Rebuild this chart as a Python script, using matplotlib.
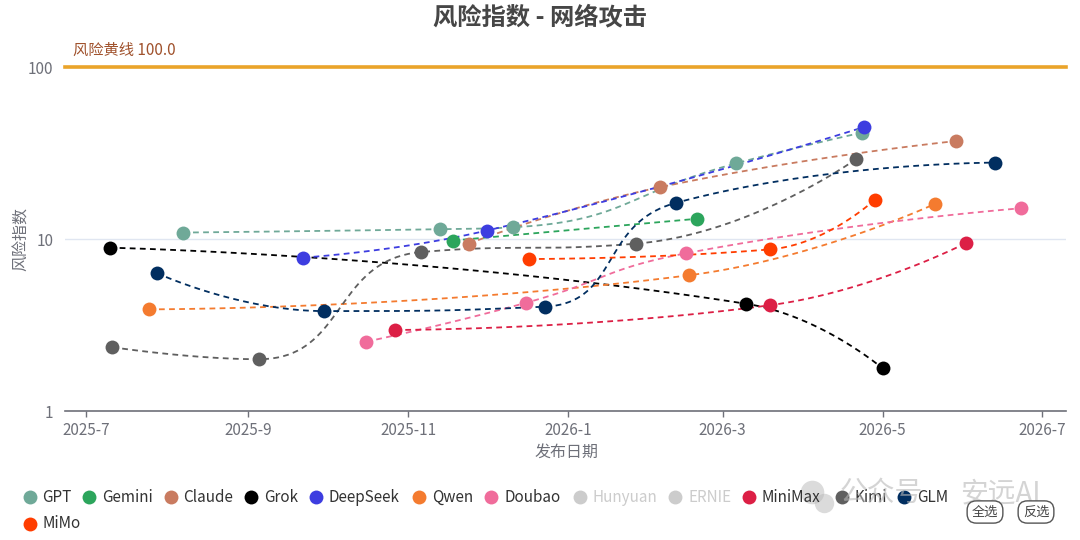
import matplotlib
matplotlib.use('Agg')
import matplotlib.pyplot as plt
import matplotlib.dates as mdates
from matplotlib.lines import Line2D
import numpy as np
import math

plt.rcParams['font.family'] = ['Noto Sans CJK SC', 'DejaVu Sans']

# ---------------- data ----------------
gpt_dates = ['2025-08-07', '2025-11-13', '2025-12-11', '2026-03-06', '2026-04-23']
gpt_values = [10.9, 11.4, 11.7, 27.5, 41.5]
gemini_dates = ['2025-11-18', '2026-02-19']
gemini_values = [9.8, 13.1]
claude_dates = ['2025-11-24', '2026-02-05', '2026-05-29']
claude_values = [9.4, 20.0, 37.1]
grok_dates = ['2025-07-10', '2026-03-10', '2026-05-01']
grok_values = [8.9, 4.2, 1.77]
deepseek_dates = ['2025-09-22', '2025-12-01', '2026-04-24']
deepseek_values = [7.8, 11.2, 44.8]
qwen_dates = ['2025-07-25', '2026-02-16', '2026-05-21']
qwen_values = [3.9, 6.15, 16.0]
doubao_dates = ['2025-10-16', '2025-12-16', '2026-02-15', '2026-06-23']
doubao_values = [2.53, 4.26, 8.26, 15.1]
minimax_dates = ['2025-10-27', '2026-03-19', '2026-06-02']
minimax_values = [2.96, 4.12, 9.5]
kimi_dates = ['2025-07-11', '2025-09-05', '2025-11-06', '2026-01-27', '2026-04-21']
kimi_values = [2.35, 2.0, 8.4, 9.4, 29.2]
glm_dates = ['2025-07-28', '2025-09-30', '2025-12-23', '2026-02-11', '2026-06-13']
glm_values = [6.34, 3.81, 4.04, 16.2, 27.8]
mimo_dates = ['2025-12-17', '2026-03-19', '2026-04-28']
mimo_values = [7.65, 8.7, 16.9]

legend_names = ['GPT', 'Gemini', 'Claude', 'Grok', 'DeepSeek', 'Qwen', 'Doubao',
                'Hunyuan', 'ERNIE', 'MiniMax', 'Kimi', 'GLM', 'MiMo']
legend_colors = ['#6fa998', '#2ca55c', '#c97b60', '#000000', '#3d3de0', '#f47b2f',
                 '#f06c9b', '#cccccc', '#cccccc', '#dc1f45', '#5f5f5f', '#012e60', '#ff3d00']
legend_active = [True, True, True, True, True, True, True, False, False, True, True, True, True]

series = [
    ('GPT', gpt_dates, gpt_values, '#6fa998'),
    ('Gemini', gemini_dates, gemini_values, '#2ca55c'),
    ('Claude', claude_dates, claude_values, '#c97b60'),
    ('Grok', grok_dates, grok_values, '#000000'),
    ('DeepSeek', deepseek_dates, deepseek_values, '#3d3de0'),
    ('Qwen', qwen_dates, qwen_values, '#f47b2f'),
    ('Doubao', doubao_dates, doubao_values, '#f06c9b'),
    ('MiniMax', minimax_dates, minimax_values, '#dc1f45'),
    ('Kimi', kimi_dates, kimi_values, '#5f5f5f'),
    ('GLM', glm_dates, glm_values, '#012e60'),
    ('MiMo', mimo_dates, mimo_values, '#ff3d00'),
]

xtick_dates = ['2025-07-01', '2025-09-01', '2025-11-01', '2026-01-01',
               '2026-03-01', '2026-05-01', '2026-07-01']
xtick_labels = ['2025-7', '2025-9', '2025-11', '2026-1', '2026-3', '2026-5', '2026-7']
yticks = [1, 10, 100]
ytick_labels = ['1', '10', '100']
risk_line = 100.0

# ---------------- figure ----------------
W, H = 1080, 540
fig = plt.figure(figsize=(W / 100, H / 100), dpi=100)

def fx(x):
    return x / W

def fy(y):
    return 1 - y / H

L, R, T, B = 65, 1066, 67, 411
ax = fig.add_axes([fx(L), fy(B), (R - L) / W, (B - T) / H])

def dnum(lst):
    return mdates.date2num(np.array(lst, dtype='datetime64[D]'))

ax.set_yscale('log')
ax.set_ylim(1, 100)
ax.set_xlim(dnum(['2025-06-23'])[0], dnum(['2026-07-10'])[0])

axis_col = '#6e7079'
for s in ['top', 'right', 'left']:
    ax.spines[s].set_visible(False)
ax.spines['bottom'].set_color(axis_col)
ax.spines['bottom'].set_linewidth(1.2)

ax.set_yticks(yticks)
ax.set_yticklabels(ytick_labels)
ax.yaxis.set_minor_locator(matplotlib.ticker.NullLocator())
ax.tick_params(axis='y', length=0, pad=8.5, labelsize=11, labelcolor=axis_col)
ax.set_xticks(dnum(xtick_dates))
ax.set_xticklabels(xtick_labels)
ax.tick_params(axis='x', length=4, width=1, color=axis_col, pad=4,
               labelsize=11, labelcolor=axis_col)
ax.yaxis.grid(True, which='major', color='#e0e6f1', lw=1)
ax.set_axisbelow(True)


def echarts_smooth(px, py, smooth=0.5, n=40):
    N = len(px)
    ox, oy = [px[0]], [py[0]]
    cpx0, cpy0 = px[0], py[0]
    prevX, prevY = px[0], py[0]
    t = np.linspace(0, 1, n)[1:]
    for i in range(1, N):
        x, y = px[i], py[i]
        if i == N - 1:
            cpx1, cpy1 = x, y
            ncx, ncy = x, y
        else:
            nx, ny = px[i + 1], py[i + 1]
            vx = nx - prevX
            vy = ny - prevY
            lp = math.hypot(x - prevX, y - prevY)
            ln = math.hypot(nx - x, ny - y)
            r = ln / (ln + lp)
            ncx = x + vx * smooth * r
            ncy = y + vy * smooth * r
            ncx = min(ncx, max(nx, x)); ncy = min(ncy, max(ny, y))
            ncx = max(ncx, min(nx, x)); ncy = max(ncy, min(ny, y))
            vx = ncx - x; vy = ncy - y
            cpx1 = x - vx * lp / ln; cpy1 = y - vy * lp / ln
            cpx1 = min(cpx1, max(prevX, x)); cpy1 = min(cpy1, max(prevY, y))
            cpx1 = max(cpx1, min(prevX, x)); cpy1 = max(cpy1, min(prevY, y))
            vx = x - cpx1; vy = y - cpy1
            ncx = x + vx * ln / lp; ncy = y + vy * ln / lp
        bx = (1 - t) ** 3 * prevX + 3 * (1 - t) ** 2 * t * cpx0 + 3 * (1 - t) * t ** 2 * cpx1 + t ** 3 * x
        by = (1 - t) ** 3 * prevY + 3 * (1 - t) ** 2 * t * cpy0 + 3 * (1 - t) * t ** 2 * cpy1 + t ** 3 * y
        ox.extend(bx); oy.extend(by)
        cpx0, cpy0 = ncx, ncy
        prevX, prevY = x, y
    return np.array(ox), np.array(oy)


for k, (name, dates, vals, col) in enumerate(series):
    xd = dnum(dates)
    yd = np.array(vals, dtype=float)
    disp = ax.transData.transform(np.column_stack([xd, yd]))
    sx, sy = echarts_smooth(disp[:, 0], disp[:, 1])
    back = ax.transData.inverted().transform(np.column_stack([sx, sy]))
    ax.plot(back[:, 0], back[:, 1], color=col, lw=1.3, dashes=(3.2, 2.4),
            zorder=2 + k * 0.01)
    ax.plot(xd, yd, 'o', ms=10, color=col, mec='none', zorder=3 + k * 0.01)

# risk line
ax.axhline(risk_line, color='#eaa42a', lw=2.6, zorder=5, clip_on=False)
fig.text(fx(73), fy(50), f'风险黄线 {risk_line:.1f}', color='#a0522d', fontsize=11,
         ha='left', va='center')

# title and axis names
fig.text(fx(540), fy(17), '风险指数 - 网络攻击', fontsize=17.5, fontweight='bold',
         color='#464646', ha='center', va='center')
fig.text(fx(21), fy(239), '风险指数', fontsize=11.5, color=axis_col, rotation=90,
         ha='center', va='center')
fig.text(fx(567), fy(452), '发布日期', fontsize=11.5, color=axis_col,
         ha='center', va='center')

# legend
icon_x = [29.6, 89.2, 170.5, 250.7, 316, 418.7, 491.4, 580, 675, 748.7, 841.6, 904, 29.6]
icon_y = [497] * 12 + [524]
for name, col, act, x, y in zip(legend_names, legend_colors, legend_active, icon_x, icon_y):
    fig.add_artist(Line2D([fx(x)], [fy(y)], marker='o', ms=10, color=col, mec='none',
                          transform=fig.transFigure))
    fig.text(fx(x + 13), fy(y), name, fontsize=11, color='#333333' if act else '#cccccc',
             ha='left', va='center')

# watermark
wm = '#b8b8b8'
fig.add_artist(Line2D([fx(812)], [fy(492)], marker='o', ms=17, color=wm, alpha=0.5,
                      mec='none', transform=fig.transFigure))
fig.add_artist(Line2D([fx(824)], [fy(503)], marker='o', ms=14, color=wm, alpha=0.5,
                      mec='none', transform=fig.transFigure))
fig.text(fx(840), fy(493), '公众号', fontsize=20, color=wm, alpha=0.6, ha='left', va='center')
fig.text(fx(960), fy(493), '安远AI', fontsize=20, color=wm, alpha=0.6, ha='left', va='center')

# buttons
for txt, cx in [('全选', 985), ('反选', 1036)]:
    fig.text(fx(cx), fy(512), txt, fontsize=9.5, color='#444444', ha='center', va='center',
             bbox=dict(boxstyle='round,pad=0.35,rounding_size=0.7', fc='white',
                       ec='#555555', lw=1))

fig.savefig('out.png', dpi=100)
